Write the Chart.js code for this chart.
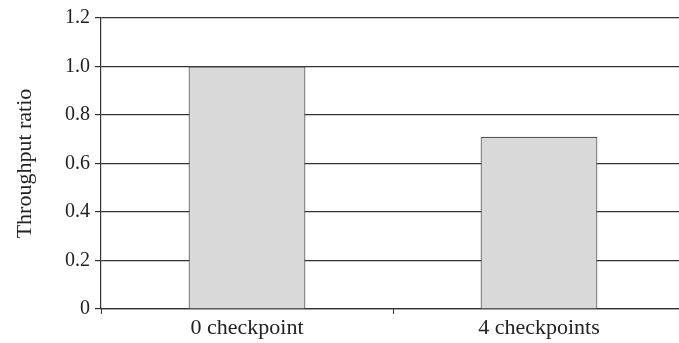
<!DOCTYPE html>
<html>
<head>
<meta charset="utf-8">
<script src="https://cdn.jsdelivr.net/npm/chart.js@4/dist/chart.umd.min.js"></script>
<style>
  html, body { margin: 0; padding: 0; background: #fff; overflow: hidden; }
  #wrap { width: 679px; height: 343px; overflow: hidden; }
</style>
</head>
<body>
<div id="wrap"><canvas id="c" width="685" height="343"></canvas></div>
<script>
const categories = ['0 checkpoint', '4 checkpoints'];
const throughputRatio = [1.0, 0.71];
const yTicks = [0, 0.2, 0.4, 0.6, 0.8, 1.0, 1.2];

const serif = '"Liberation Serif", "DejaVu Serif", serif';
const ink = '#333333';

new Chart(document.getElementById('c'), {
  type: 'bar',
  data: {
    labels: categories,
    datasets: [{
      data: throughputRatio,
      backgroundColor: '#d9d9d9',
      borderColor: '#555555',
      borderWidth: 1.2,
      barPercentage: 0.4,
      categoryPercentage: 1.0
    }]
  },
  options: {
    responsive: false,
    animation: false,
    layout: { padding: { top: 18, right: 0, left: 0, bottom: 0 } },
    plugins: { legend: { display: false }, tooltip: { enabled: false } },
    scales: {
      x: {
        offset: true,
        grid: {
          offset: true,
          drawOnChartArea: false,
          drawTicks: true,
          tickLength: 5,
          color: ink
        },
        border: { color: ink, width: 1.2 },
        ticks: { color: '#222', font: { family: serif, size: 22 }, padding: 1 },
        afterFit: s => { s.height = 34; }
      },
      y: {
        min: 0,
        max: 1.2,
        afterBuildTicks: s => { s.ticks = yTicks.map(v => ({ value: v })); },
        grid: { color: ink, lineWidth: 1.2, tickLength: 6 },
        border: { color: ink, width: 1.2 },
        ticks: {
          color: '#222',
          font: { family: serif, size: 20 },
          padding: 5,
          callback: v => (v === 0 ? '0' : v.toFixed(1))
        },
        title: {
          display: true,
          text: 'Throughput ratio',
          color: '#222',
          font: { family: serif, size: 22 },
          padding: { top: 12, bottom: 0 }
        },
        afterFit: s => { s.width = 101; }
      }
    }
  }
});
</script>
</body>
</html>
